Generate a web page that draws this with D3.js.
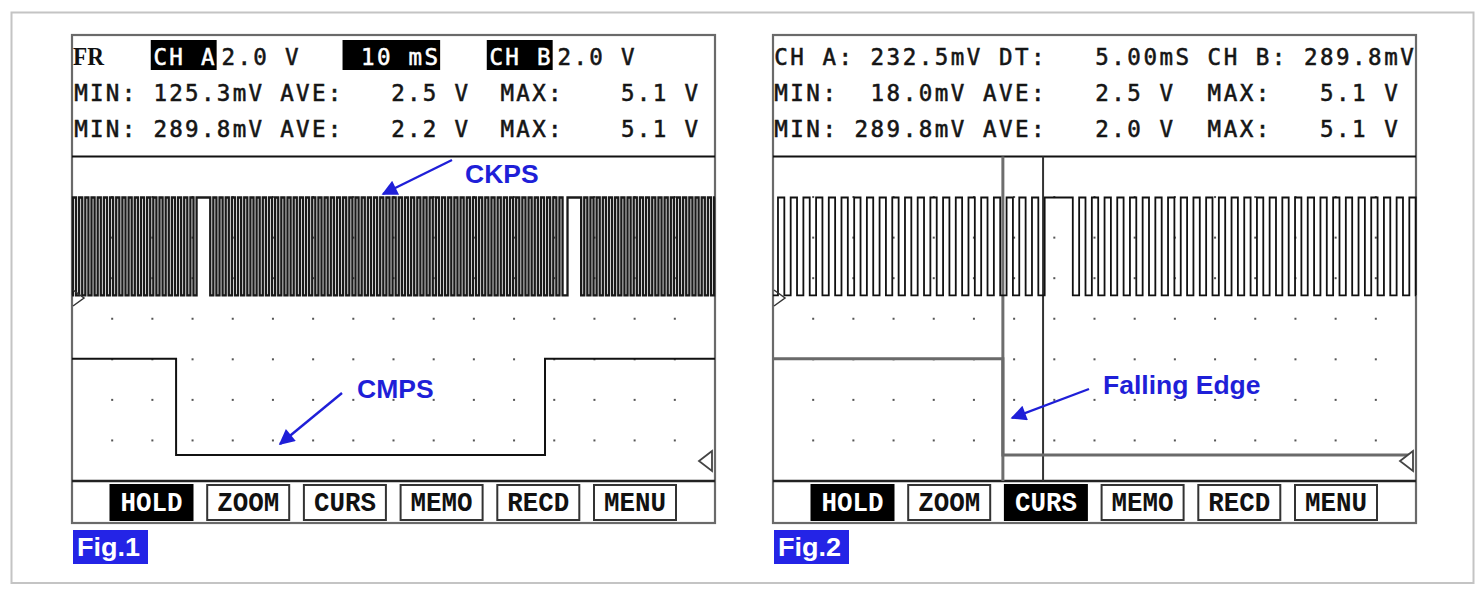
<!DOCTYPE html>
<html><head><meta charset="utf-8">
<script src="https://cdn.jsdelivr.net/npm/d3@7"></script>
<style>html,body{margin:0;padding:0;background:#fff;}svg{display:block}</style>
</head><body>
<svg id="c" width="1484" height="590"></svg>
<script>
// ---------------- DATA ----------------
// Fig.1 read-out texts
const fig1Row1Text = ["CH A", "2.0 V", " 10 mS", "CH B", "2.0 V"];
const fig1Row1Inverse = [true, false, true, true, false];
const fig1Row2Text = ["MIN:", "125.3mV", "AVE:", "2.5 V", "MAX:", "5.1 V"];
const fig1Row3Text = ["MIN:", "289.8mV", "AVE:", "2.2 V", "MAX:", "5.1 V"];
// Fig.2 read-out texts
const fig2Row1Text = ["CH A:", "232.5mV", "DT:", "5.00mS", "CH B:", "289.8mV"];
const fig2Row2Text = ["MIN:", "18.0mV", "AVE:", "2.5 V", "MAX:", "5.1 V"];
const fig2Row3Text = ["MIN:", "289.8mV", "AVE:", "2.0 V", "MAX:", "5.1 V"];
// soft keys
const buttonLabels = ["HOLD", "ZOOM", "CURS", "MEMO", "RECD", "MENU"];
const fig1ActiveButtons = ["HOLD"];
const fig2ActiveButtons = ["HOLD", "CURS"];
const figLabels = ["Fig.1", "Fig.2"];

// scope settings
const voltsPerDiv = 2;
const fig1MsPerDiv = 10;
const fig2MsPerDiv = 5;

// CKPS (channel A): levels (V), missing-tooth gap starts (ms), tooth period (ms), gap high time (ms)
const ckpsLevelsV = [0.13, 4.95];
const fig1CkpsGapStartMs = [31.0, 123.3];
const fig1CkpsToothMs = [1.538];
const fig1CkpsGapHighMs = [3.4];
const fig2CkpsGapStartMs = [33.8];
const fig2CkpsToothMs = [1.58];
const fig2CkpsGapHighMs = [3.5];

// CMPS (channel B): step edges (ms) and the level after each edge (V)
const fig1CmpsEdgesMs = [0, 25.9, 117.7, 160];
const fig1CmpsLevelsV = [5.04, 0.29, 5.04, 5.04];
const fig2CmpsEdgesMs = [0, 28.6, 79.4];
const fig2CmpsLevelsV = [5.04, 0.29, 0.29];

// Fig.2 cursors (ms)
const fig2CursorsMs = [28.6, 33.6];

// annotations
const annoTexts = ["CKPS", "CMPS", "Falling Edge"];

// ---------------- DRAWING ----------------
const svg = d3.select("#c");
const BLUE = "#1f1fd8";
const SCR = {top: 35, bottom: 523, w: 643, hdr: 156.5, btn: 481};

svg.append("rect").attr("x", 11.5).attr("y", 12.5).attr("width", 1462).attr("height", 570.5)
  .attr("fill", "none").attr("stroke", "#c4c4c4").attr("stroke-width", 2);

const defs = svg.append("defs");
defs.append("marker").attr("id", "ah").attr("viewBox", "0 0 10 10").attr("refX", 9).attr("refY", 5)
  .attr("markerWidth", 7.5).attr("markerHeight", 6.5).attr("markerUnits", "strokeWidth")
  .attr("orient", "auto").append("path").attr("d", "M0,0 L10,5 L0,10 z").attr("fill", BLUE);

function ckpsPoints(gapStarts, p, gapLen, tEnd) {
  const rises = [];
  const g0 = gapStarts[0];
  for (let r = g0 - p; r > -p; r -= p) rises.push([r, r + p / 2]);
  gapStarts.forEach((g, i) => {
    const gEnd = g + gapLen;
    rises.push([g, gEnd]);
    const next = i + 1 < gapStarts.length ? gapStarts[i + 1] : Infinity;
    for (let r = gEnd + p / 2; r < Math.min(next - p * 0.75, tEnd); r += p) rises.push([r, r + p / 2]);
  });
  rises.sort((a, b) => a[0] - b[0]);
  const lo = ckpsLevelsV[0], hi = ckpsLevelsV[1];
  const pts = [];
  rises.forEach(([r, f]) => {
    if (f <= 0 || r >= tEnd) return;
    const rr = Math.max(r, 0);
    if (pts.length === 0 && rr > 0) pts.push([0, lo]);
    if (rr > 0) pts.push([rr, lo]);
    pts.push([rr, hi]);
    pts.push([Math.min(f, tEnd), hi]);
    if (f < tEnd) pts.push([f, lo]);
  });
  if (pts[pts.length - 1][0] < tEnd) pts.push([tEnd, pts[pts.length - 1][1]]);
  return pts;
}

function drawScope(o) {
  const L = o.left, R = L + SCR.w;
  const g = svg.append("g");
  const x = d3.scaleLinear().domain([0, 16 * o.msDiv]).range([L, R]);
  const gridY = d3.scaleLinear().domain([0, 8]).range([SCR.btn, SCR.hdr]);
  const yA = d3.scaleLinear().domain([0, 2.5 * voltsPerDiv]).range([298, 196.5]);
  const yB = d3.scaleLinear().domain([0, 2.5 * voltsPerDiv]).range([461, 359.5]);

  g.append("rect").attr("x", L).attr("y", SCR.top).attr("width", SCR.w).attr("height", SCR.bottom - SCR.top)
    .attr("fill", "#fff").attr("stroke", "#6a6a6a").attr("stroke-width", 2.2);

  // grid dots
  d3.range(1, 8).forEach(r => d3.range(1, 16).forEach(c => {
    g.append("rect").attr("x", x(c * o.msDiv) - 1).attr("y", gridY(r) - 1).attr("width", 2).attr("height", 2).attr("fill", "#555");
  }));

  // header text (monospaced LCD cells)
  const mono = (txt, col, yb, inv) => {
    const x0 = o.x0 + col * o.pitch;
    if (inv) g.append("rect").attr("x", x0 - 1.5).attr("y", 40).attr("width", txt.length * o.pitch + 2.5).attr("height", 30).attr("fill", "#000");
    [...txt].forEach((ch, i) => {
      g.append("text").attr("x", x0 + (i + 0.5) * o.pitch).attr("y", yb).attr("text-anchor", "middle")
        .attr("font-family", "DejaVu Sans Mono").attr("font-size", 22.5)
        .attr("fill", inv ? "#fff" : "#151515").attr("stroke", inv ? "#fff" : "#151515").attr("stroke-width", 0.55)
        .text(ch);
    });
  };
  if (o.fr) g.append("text").attr("x", L + 1).attr("y", 65).attr("font-family", "Liberation Serif").attr("font-weight", "bold")
    .attr("font-size", 25).attr("textLength", 31).attr("lengthAdjust", "spacingAndGlyphs").attr("fill", "#111").text("FR");
  o.rows.forEach((row, ri) => row.text.forEach((t, i) => mono(t, row.cols[i], [65, 101, 137][ri], row.inv ? row.inv[i] : false)));

  g.append("line").attr("x1", L).attr("x2", R).attr("y1", SCR.hdr).attr("y2", SCR.hdr).attr("stroke", "#111").attr("stroke-width", 2.2);
  g.append("line").attr("x1", L).attr("x2", R).attr("y1", SCR.btn).attr("y2", SCR.btn).attr("stroke", "#222").attr("stroke-width", 2.4);

  (o.cursors || []).forEach((c, i) => {
    g.append("line").attr("x1", x(c)).attr("x2", x(c)).attr("y1", SCR.hdr).attr("y2", SCR.btn)
      .attr("stroke", i === 0 ? "#6e6e6e" : "#333").attr("stroke-width", i === 0 ? 3 : 2);
  });

  // CKPS
  const ck = ckpsPoints(o.gaps, o.tooth[0], o.gapHigh[0], 16 * o.msDiv);
  g.append("path").attr("d", d3.line().x(d => x(d[0])).y(d => yA(d[1]))(ck))
    .attr("fill", "none").attr("stroke", o.ckColor).attr("stroke-width", o.ckW).attr("stroke-linejoin", "miter");

  // CMPS
  const cm = [];
  o.cmpsEdges.forEach((t, i) => {
    if (i > 0) cm.push([t, o.cmpsLevels[i - 1]]);
    cm.push([t, o.cmpsLevels[i]]);
  });
  g.append("path").attr("d", d3.line().x(d => x(d[0])).y(d => yB(d[1]))(cm))
    .attr("fill", "none").attr("stroke", o.cmColor).attr("stroke-width", o.cmW);

  // channel markers
  g.append("path").attr("d", `M${L + 1},${yA(0) - 8} L${L + 12},${yA(0)} L${L + 1},${yA(0) + 8}`)
    .attr("fill", "none").attr("stroke", "#333").attr("stroke-width", 1.5);
  g.append("path").attr("d", `M${R - 3},${yB(0) - 10} L${R - 16},${yB(0)} L${R - 3},${yB(0) + 10} Z`)
    .attr("fill", "#fff").attr("stroke", "#444").attr("stroke-width", 1.8);

  // soft keys
  buttonLabels.forEach((b, i) => {
    const bx = L + 38.5 + i * 96.7;
    const act = o.active.includes(b);
    g.append("rect").attr("x", bx).attr("y", 485).attr("width", 82).attr("height", 35)
      .attr("fill", act ? "#000" : "#fff").attr("stroke", act ? "#000" : "#333").attr("stroke-width", 2);
    g.append("text").attr("x", bx + 41).attr("y", 511).attr("text-anchor", "middle")
      .attr("font-family", "Liberation Mono").attr("font-weight", "bold").attr("font-size", 27)
      .attr("textLength", 62).attr("lengthAdjust", "spacingAndGlyphs")
      .attr("fill", act ? "#fff" : "#111").text(b);
  });

  // figure label
  g.append("rect").attr("x", L + 1).attr("y", 530).attr("width", 75).attr("height", 34).attr("fill", "#2424e6");
  g.append("text").attr("x", L + 5).attr("y", 556).attr("font-family", "Liberation Sans").attr("font-weight", "bold")
    .attr("font-size", 25).attr("textLength", 63).attr("lengthAdjust", "spacingAndGlyphs").attr("fill", "#fff").text(o.label);
}

drawScope({
  left: 72, msDiv: fig1MsPerDiv, x0: 73, pitch: 15.85, fr: true,
  rows: [
    {text: fig1Row1Text, cols: [5, 9.3, 17.1, 26.2, 30.5], inv: fig1Row1Inverse},
    {text: fig1Row2Text, cols: [0, 5, 13, 20, 26.9, 34.5]},
    {text: fig1Row3Text, cols: [0, 5, 13, 20, 26.9, 34.5]}
  ],
  gaps: fig1CkpsGapStartMs, tooth: fig1CkpsToothMs, gapHigh: fig1CkpsGapHighMs, ckW: 2.3, ckColor: "#1a1a1a",
  cmpsEdges: fig1CmpsEdgesMs, cmpsLevels: fig1CmpsLevelsV, cmColor: "#111", cmW: 2,
  active: fig1ActiveButtons, label: figLabels[0]
});
drawScope({
  left: 773, msDiv: fig2MsPerDiv, x0: 773, pitch: 16.05, fr: false,
  rows: [
    {text: fig2Row1Text, cols: [0, 6, 14, 20, 27, 33]},
    {text: fig2Row2Text, cols: [0, 6, 13, 20, 27, 34]},
    {text: fig2Row3Text, cols: [0, 5, 13, 20, 27, 34]}
  ],
  gaps: fig2CkpsGapStartMs, tooth: fig2CkpsToothMs, gapHigh: fig2CkpsGapHighMs, ckW: 1.8, ckColor: "#111",
  cmpsEdges: fig2CmpsEdgesMs, cmpsLevels: fig2CmpsLevelsV, cmColor: "#6a6a6a", cmW: 3,
  cursors: fig2CursorsMs,
  active: fig2ActiveButtons, label: figLabels[1]
});

// annotations
const anno = svg.append("g");
const annoStyle = t => t.attr("font-family", "Liberation Sans").attr("font-weight", "bold").attr("font-size", 26.5).attr("fill", BLUE);
annoStyle(anno.append("text").attr("x", 465).attr("y", 183).text(annoTexts[0]));
annoStyle(anno.append("text").attr("x", 357).attr("y", 398).text(annoTexts[1]));
annoStyle(anno.append("text").attr("x", 1103).attr("y", 394).text(annoTexts[2]));
[[452, 160, 383, 194], [342, 393, 280, 444], [1089, 389, 1012, 418]].forEach(a => {
  anno.append("line").attr("x1", a[0]).attr("y1", a[1]).attr("x2", a[2]).attr("y2", a[3])
    .attr("stroke", BLUE).attr("stroke-width", 2.4).attr("marker-end", "url(#ah)");
});
</script>
</body></html>
